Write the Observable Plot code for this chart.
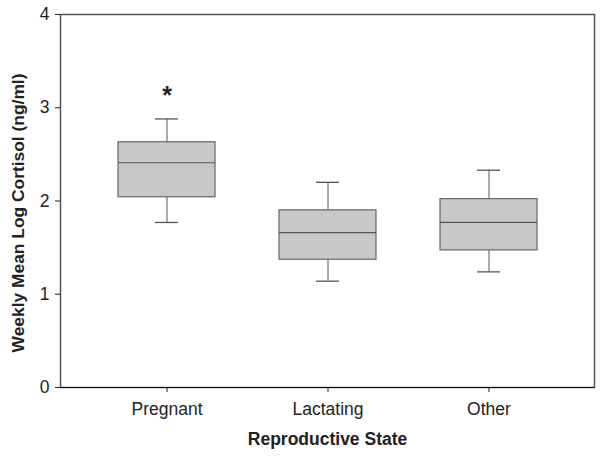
<!DOCTYPE html>
<html>
<head>
<meta charset="utf-8">
<script src="https://cdn.jsdelivr.net/npm/d3@7"></script>
<script src="https://cdn.jsdelivr.net/npm/@observablehq/plot@0.6"></script>
<style>
  body { margin: 0; background: #fff; }
  svg { font-family: "Liberation Sans", Arial, sans-serif; }
</style>
</head>
<body>
<div id="chart"></div>
<script>
const states = ["Pregnant", "Lactating", "Other"];
const lowWhisker = [1.77, 1.14, 1.24];
const q1 = [2.04, 1.37, 1.47];
const median = [2.41, 1.66, 1.77];
const q3 = [2.63, 1.90, 2.02];
const highWhisker = [2.88, 2.20, 2.33];
const yTicks = [0, 1, 2, 3, 4];
const markers = [{state: "Pregnant", y: 3.13, text: "*"}];

const data = states.map((s, i) => ({
  state: s, lo: lowWhisker[i], q1: q1[i], med: median[i], q3: q3[i], hi: highWhisker[i]
}));

const chart = Plot.plot({
  width: 601,
  height: 459,
  marginLeft: 60,
  marginRight: 7,
  marginTop: 14,
  marginBottom: 72,
  style: {fontFamily: "'Liberation Sans', Arial, sans-serif", background: "#fff"},
  x: {domain: states, paddingInner: 0.4, paddingOuter: 0.353, label: null},
  y: {domain: [0, 4], label: null},
  marks: [
    Plot.frame({stroke: "#555", strokeWidth: 1.5}),
    Plot.ruleX(data, {x: "state", y1: "lo", y2: "q1", stroke: "#555"}),
    Plot.ruleX(data, {x: "state", y1: "q3", y2: "hi", stroke: "#555"}),
    Plot.tickY(data, {x: "state", y: "lo", stroke: "#555", strokeWidth: 1.3, insetLeft: 37, insetRight: 37}),
    Plot.tickY(data, {x: "state", y: "hi", stroke: "#555", strokeWidth: 1.3, insetLeft: 37, insetRight: 37}),
    Plot.barY(data, {x: "state", y1: "q1", y2: "q3", fill: "#c8c8c8", stroke: "#666", strokeWidth: 1.2}),
    Plot.tickY(data, {x: "state", y: "med", stroke: "#555", strokeWidth: 1.2}),
    Plot.text(markers, {x: "state", y: "y", text: "text", fontSize: 25, fontWeight: "bold", fill: "#222"}),
    Plot.axisY({ticks: yTicks, tickFormat: "d", tickSize: 5, tickPadding: 6, fontSize: 17.5, stroke: "#222", color: "#222", label: null}),
    Plot.axisX({tickSize: 5, tickPadding: 10, fontSize: 17.5, color: "#222", label: null}),
    Plot.ruleX([0], {x: () => null, frameAnchor: "left", stroke: "#111"}),
    Plot.ruleY([0], {stroke: "#111"}),
    Plot.text(["Weekly Mean Log Cortisol (ng/ml)"], {frameAnchor: "left", textAnchor: "middle", dx: -42, dy: 12, rotate: -90, fontSize: 17.4, fontWeight: "bold", fill: "#222"}),
    Plot.text(["Reproductive State"], {frameAnchor: "bottom", dy: 57, fontSize: 17.5, fontWeight: "bold", fill: "#222"})
  ]
});
document.getElementById("chart").appendChild(chart);
</script>
</body>
</html>
